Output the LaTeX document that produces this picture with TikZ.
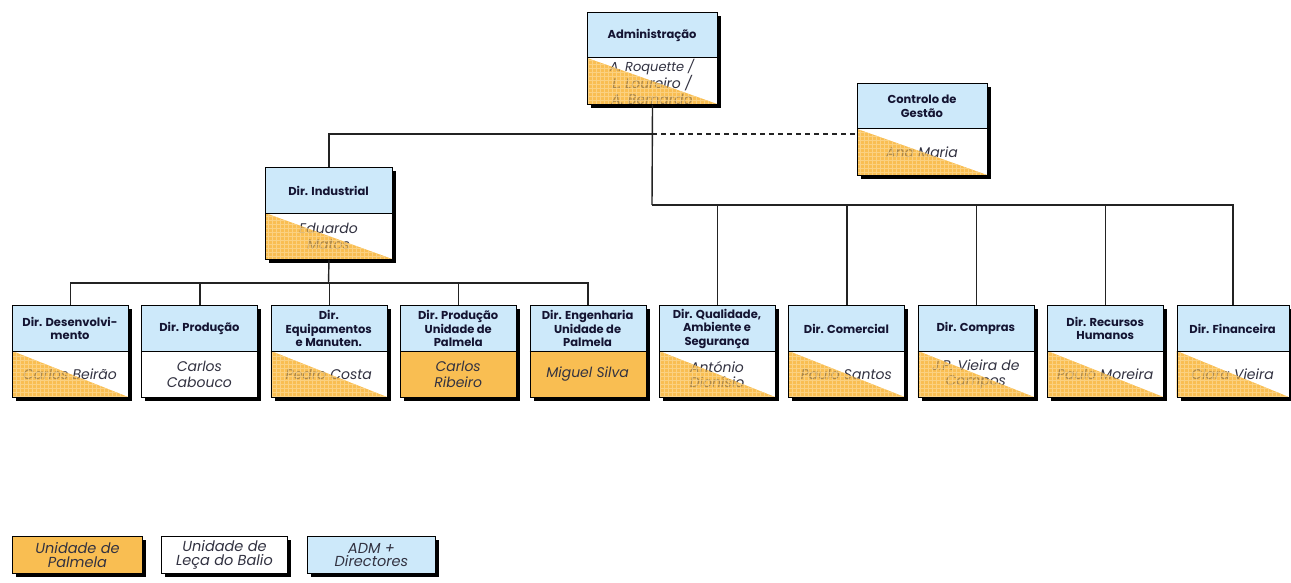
\documentclass[tikz,border=0pt]{standalone}
\usepackage{fontspec}
\setmainfont{Poppins}
\usetikzlibrary{calc}

\definecolor{hdrblue}{RGB}{205,233,250}
\definecolor{palorange}{RGB}{249,190,82}
\definecolor{gridorange}{RGB}{253,220,155}
\definecolor{namegray}{RGB}{50,50,65}
\definecolor{hdrnavy}{RGB}{20,20,50}
\definecolor{linegray}{RGB}{35,35,35}

\tikzset{
  hdrtext/.style={align=center, inner sep=0pt, text=hdrnavy,
    font=\fontsize{11.5}{13.5}\selectfont\bfseries},
  nametext/.style={align=center, inner sep=0pt, text=namegray,
    font=\fontsize{14}{15.5}\selectfont\itshape},
  boxline/.style={draw=black, line width=1pt},
  shadowfill/.style={fill=black},
  link/.style={draw=linegray, line width=1.4pt},
  dashlink/.style={link, dash pattern=on 5pt off 4pt},
  gridlines/.style={draw=gridorange, line width=0.5pt, opacity=0.65},
}

% One unit of the chart: title strip on top, holder underneath.
% #1 name, #2 left, #3 top, #4 width, #5 title, #6 holder,
% #7 holder background: 0 Leca (white), 1 split, 2 Palmela (orange)
\newcommand\orgunit[7]{%
  \fill[shadowfill] (#2+4,#3+4) rectangle (#2+#4+4,#3+96);
  \fill[hdrblue] (#2,#3) rectangle (#2+#4,#3+46);
  \ifcase#7
    \fill[white] (#2,#3+46) rectangle (#2+#4,#3+92);
  \or
    \fill[white] (#2,#3+46) rectangle (#2+#4,#3+92);
    \fill[palorange] (#2,#3+46) -- (#2+#4,#3+92) -- (#2,#3+92) -- cycle;
  \or
    \fill[palorange] (#2,#3+46) rectangle (#2+#4,#3+92);
  \fi
  \node[hdrtext] (#1-title) at (#2+#4/2,#3+23.5) {#5};
  \node[nametext] (#1-name) at (#2+#4/2,#3+69.5) {#6};
  \ifnum#7=1
    \begin{scope}
      \clip (#2,#3+46) -- (#2+#4,#3+92) -- (#2,#3+92) -- cycle;
      \fill[palorange, opacity=0.6] (#2,#3+46) rectangle (#2+#4,#3+92);
      \draw[gridlines, step=4pt] (#2,#3+46) grid (#2+#4,#3+92);
    \end{scope}
  \fi
  \node[boxline, inner sep=0pt, minimum width=#4, minimum height=92,
        anchor=north west] (#1) at (#2,#3) {};
  \draw[boxline] (#2,#3+46) -- (#2+#4,#3+46);
}

% Key boxes: #1 name, #2 left, #3 width, #4 fill, #5 text
\newcommand\keybox[5]{%
  \fill[shadowfill] (#2+4,536+4) rectangle (#2+#3+4,573+4);
  \node[boxline, fill=#4, nametext, font=\fontsize{14.5}{13.5}\selectfont\itshape,
        minimum width=#3, minimum height=37, anchor=north west] (#1) at (#2,536) {#5};
}

\begin{document}
\begin{tikzpicture}[x=1pt, y=-1pt]
  \fill[white] (0,0) rectangle (1291,583);
  \useasboundingbox (0,0) rectangle (1291,583);

  % upper levels
  \orgunit{adm}{587}{12}{130}{Administração}
    {\fontsize{13}{13.5}\selectfont A. Roquette /\\L. Loureiro /\\A. Bernardo}{1}
  \orgunit{ctl}{857}{83}{130}{Controlo de\\Gestão}{Ana Maria}{1}
  \orgunit{ind}{265}{167}{127}{Dir. Industrial}{Eduardo\\Matos}{1}

  % directorates
  \orgunit{d1}{12}{305}{116}{Dir. Desenvolvi-\\mento}{Carlos Beirão}{1}
  \orgunit{d2}{141.4}{305}{116}{Dir. Produção}{Carlos\\Cabouco}{0}
  \orgunit{d3}{270.8}{305}{116}{Dir.\\Equipamentos\\e Manuten.}{Pedro Costa}{1}
  \orgunit{d4}{400.2}{305}{116}{Dir. Produção\\Unidade de\\Palmela}{Carlos\\Ribeiro}{2}
  \orgunit{d5}{529.6}{305}{116}{Dir. Engenharia\\Unidade de\\Palmela}{Miguel Silva}{2}
  \orgunit{d6}{659}{305}{116}{Dir. Qualidade,\\Ambiente e\\Segurança}{António\\Dionísio}{1}
  \orgunit{d7}{788.4}{305}{116}{Dir. Comercial}{Paulo Santos}{1}
  \orgunit{d8}{917.8}{305}{116}{Dir. Compras}{J.P. Vieira de\\Campos}{1}
  \orgunit{d9}{1047.2}{305}{116}{Dir. Recursos\\Humanos}{Paulo Moreira}{1}
  \orgunit{d10}{1176.6}{305}{112}{Dir. Financeira}{Clara Vieira}{1}

  % connectors
  \coordinate (ujoin) at (652,134);
  \coordinate (rjoin) at (652,205);
  \coordinate (ljoin) at (328.5,283);

  \draw[link] (adm.south) -- (rjoin);
  \draw[link] (ind.north) |- (ujoin);
  \draw[dashlink] (ujoin) -- (ujoin -| ctl.west);

  \draw[link] (ind.south) -- (ljoin);
  \draw[link] (d1.north) |- (d5.north |- ljoin) -- (d5.north);
  \foreach \d in {d2,d3,d4}
    \draw[link] (\d.north) -- (\d.north |- ljoin);

  \draw[link] (rjoin) -| (d10.north);
  \foreach \d in {d6,d7,d8,d9}
    \draw[link] (\d.north) -- (\d.north |- rjoin);

  % key
  \keybox{kpal}{12}{130}{palorange}{Unidade de\\Palmela}
  \keybox{kleca}{161}{126}{white}{Unidade de\\Leça do Balio}
  \keybox{kadm}{307}{128}{hdrblue}{ADM +\\Directores}
\end{tikzpicture}
\end{document}
